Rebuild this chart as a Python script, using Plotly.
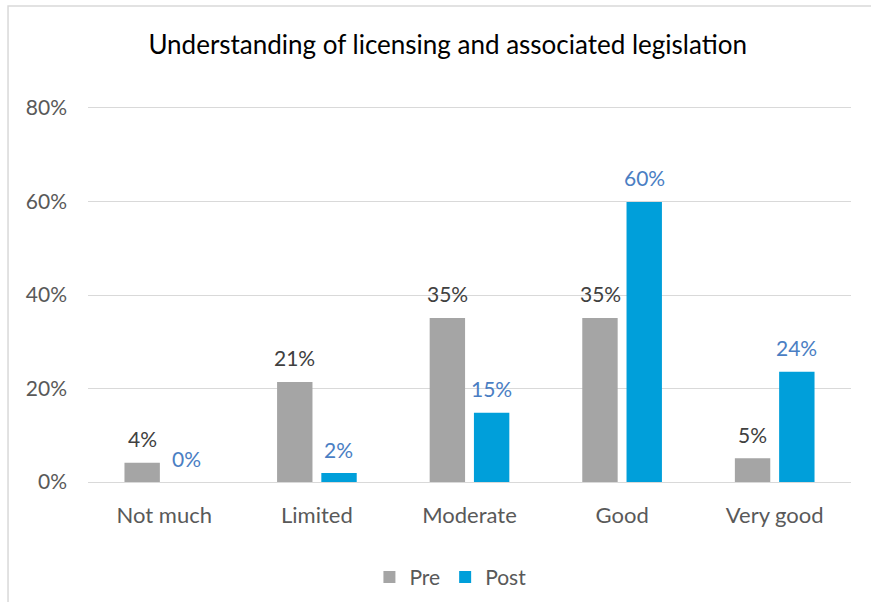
import plotly.graph_objects as go

categories = ["Not much", "Limited", "Moderate", "Good", "Very good"]
pre_values = [0.041, 0.214, 0.351, 0.351, 0.051]
post_values = [0.0, 0.019, 0.148, 0.599, 0.236]
series_names = ["Pre", "Post"]
y_ticks = [0, 0.2, 0.4, 0.6, 0.8]
title_text = "Understanding of licensing and associated legislation"

FONT = "Lato, Calibri, Carlito, sans-serif"
PRE_COLOR = "#A5A5A5"
POST_COLOR = "#009FDA"
PRE_LABEL = "#404040"
POST_LABEL = "#4A7EC3"

fig = go.Figure()
fig.add_trace(go.Bar(
    x=categories, y=pre_values, name=series_names[0],
    marker=dict(color=PRE_COLOR, line=dict(width=0)),
))
fig.add_trace(go.Bar(
    x=categories, y=post_values, name=series_names[1],
    marker=dict(color=POST_COLOR, line=dict(width=0)),
))

annotations = []
for vals, shift, col in [(pre_values, -22, PRE_LABEL), (post_values, 22, POST_LABEL)]:
    for c, v in zip(categories, vals):
        annotations.append(dict(
            x=c, y=v, xref="x", yref="y", text=f"{v:.0%}", showarrow=False,
            xshift=shift, yshift=24, yanchor="middle", xanchor="center",
            font=dict(family=FONT, size=21, color=col),
        ))

fig.update_layout(
    width=871, height=602,
    paper_bgcolor="white", plot_bgcolor="white",
    margin=dict(l=88, r=20, t=105, b=120, pad=0, autoexpand=False),
    barmode="group", bargap=0.42, bargroupgap=0.2,
    font=dict(family=FONT, size=21, color="#595959"),
    title=dict(text=title_text, x=0.514, xanchor="center", y=0.925, yanchor="middle",
               font=dict(family=FONT, size=26, color="#000000")),
    showlegend=True,
    legend=dict(orientation="h", x=0.475, xanchor="center",
                yref="container", y=0.041, yanchor="middle",
                font=dict(family=FONT, size=21, color="#595959"),
                itemwidth=30, tracegroupgap=0),
    xaxis=dict(showgrid=False, showline=False, ticks="", ticklabelstandoff=18,
               tickfont=dict(family=FONT, size=22, color="#595959")),
    yaxis=dict(range=[0, 0.8064], tickvals=y_ticks, tickformat=".0%", showgrid=True,
               gridcolor="#D9D9D9", gridwidth=1, zeroline=True, zerolinecolor="#D9D9D9",
               zerolinewidth=1, showline=False, ticks="", ticklabelstandoff=20,
               tickfont=dict(family=FONT, size=21, color="#595959")),
    annotations=annotations,
    shapes=[dict(type="rect", xref="paper", yref="paper",
                 x0=-0.1048, x1=1.5, y0=-0.6, y1=1.2626,
                 line=dict(color="#D9D9D9", width=1.5), fillcolor="rgba(0,0,0,0)", layer="below")],
)

fig.write_html("out.html", config={"displayModeBar": False},
               post_script="document.body.style.margin='0';document.body.style.overflow='hidden';")
